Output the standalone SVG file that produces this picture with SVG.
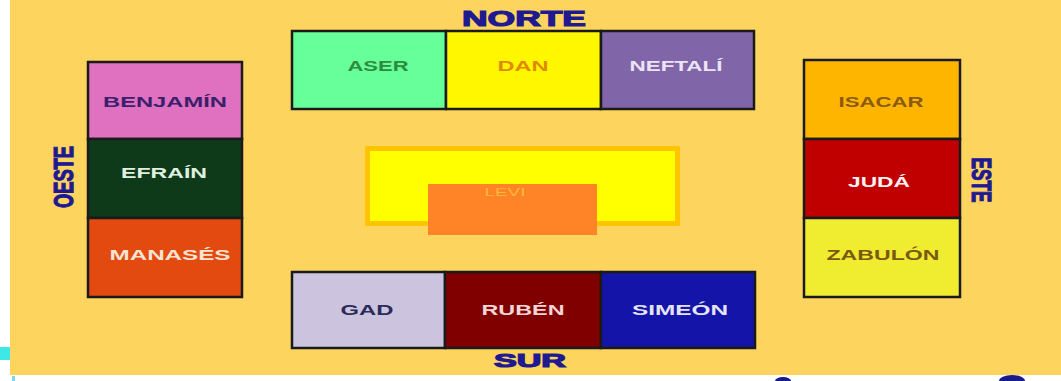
<svg xmlns="http://www.w3.org/2000/svg" width="1061" height="381" viewBox="0 0 1061 381">
<style>
.box{stroke:#1a1a1a;stroke-width:2.5}
.lbl{font-family:"Liberation Sans",Arial,sans-serif;font-weight:bold;font-size:14px;text-anchor:middle}
.dir{font-family:"Liberation Sans",Arial,sans-serif;font-weight:bold;fill:#1f1a8f;stroke:#1f1a8f;stroke-width:1.2;text-anchor:middle}
</style>
<rect x="0" y="0" width="1061" height="381" fill="#ffffff"/>
<rect x="0" y="347" width="10" height="13" fill="#3fe8e8"/>
<rect x="12" y="376" width="3" height="5" fill="#7fd8e8"/>
<rect x="10" y="0" width="1051" height="375" fill="#fdd55e"/>
<ellipse cx="783" cy="381" rx="8" ry="4" fill="#1a1a8c"/>
<ellipse cx="1012" cy="381" rx="13" ry="6" fill="#1a1a8c"/>

<g id="norte"><text class="dir" x="524" y="26" font-size="22" textLength="124" lengthAdjust="spacingAndGlyphs">NORTE</text></g>
<g id="sur"><text class="dir" x="530" y="367" font-size="19" textLength="72" lengthAdjust="spacingAndGlyphs">SUR</text></g>
<g id="oeste"><text class="dir" transform="translate(63,177) rotate(-90)" x="0" y="10" font-size="27" textLength="62" lengthAdjust="spacingAndGlyphs">OESTE</text></g>
<g id="este"><text class="dir" transform="translate(982,180) rotate(90)" x="0" y="10" font-size="27" textLength="45" lengthAdjust="spacingAndGlyphs">ESTE</text></g>

<g id="aser"><rect class="box" x="292" y="31" width="154" height="78" fill="#66ff99"/><text class="lbl" x="378" y="71" fill="#2e8b3e" textLength="61" lengthAdjust="spacingAndGlyphs">ASER</text></g>
<g id="dan"><rect class="box" x="446" y="31" width="155" height="78" fill="#fff700"/><text class="lbl" x="523" y="71" fill="#e08a00" textLength="51" lengthAdjust="spacingAndGlyphs">DAN</text></g>
<g id="neftali"><rect class="box" x="601" y="31" width="153" height="78" fill="#8066a8"/><text class="lbl" x="676" y="71" fill="#ece4f4" textLength="93" lengthAdjust="spacingAndGlyphs">NEFTALÍ</text></g>

<g id="benjamin"><rect class="box" x="88" y="62" width="154" height="77" fill="#e070c0"/><text class="lbl" x="165" y="107" fill="#3a1f6b" textLength="124" lengthAdjust="spacingAndGlyphs">BENJAMÍN</text></g>
<g id="efrain"><rect class="box" x="88" y="139" width="154" height="79" fill="#0f3a1a"/><text class="lbl" x="164" y="178" fill="#e0f0e0" textLength="86" lengthAdjust="spacingAndGlyphs">EFRAÍN</text></g>
<g id="manases"><rect class="box" x="88" y="218" width="154" height="79" fill="#e24a10"/><text class="lbl" x="170" y="260" fill="#f8e4d4" textLength="121" lengthAdjust="spacingAndGlyphs">MANASÉS</text></g>

<g id="isacar"><rect class="box" x="804" y="60" width="156" height="79" fill="#fdb500"/><text class="lbl" x="881" y="107" fill="#8b5a10" textLength="85" lengthAdjust="spacingAndGlyphs">ISACAR</text></g>
<g id="juda"><rect class="box" x="804" y="139" width="156" height="79" fill="#c00000"/><text class="lbl" x="879" y="187" fill="#fff0f0" textLength="62" lengthAdjust="spacingAndGlyphs">JUDÁ</text></g>
<g id="zabulon"><rect class="box" x="804" y="218" width="156" height="79" fill="#f0ec30"/><text class="lbl" x="883" y="260" fill="#7a5a10" textLength="113" lengthAdjust="spacingAndGlyphs">ZABULÓN</text></g>

<g id="levi">
<rect x="367.5" y="148.5" width="310" height="75" fill="#ffff00" stroke="#ffc400" stroke-width="5"/>
<rect x="428" y="184" width="169" height="51" fill="#ff8427"/>
<text x="505" y="196" font-family="'Liberation Sans',Arial,sans-serif" font-size="11" fill="#ffb838" text-anchor="middle" textLength="41" lengthAdjust="spacingAndGlyphs">LEVI</text>
</g>

<g id="gad"><rect class="box" x="292" y="272" width="153" height="76" fill="#ccc4de"/><text class="lbl" x="367" y="315" fill="#2b2b5b" textLength="53" lengthAdjust="spacingAndGlyphs">GAD</text></g>
<g id="ruben"><rect class="box" x="445" y="272" width="156" height="76" fill="#800000"/><text class="lbl" x="523" y="315" fill="#f4d4d4" textLength="83" lengthAdjust="spacingAndGlyphs">RUBÉN</text></g>
<g id="simeon"><rect class="box" x="601" y="272" width="154" height="76" fill="#1414a8"/><text class="lbl" x="680" y="315" fill="#e4e4f4" textLength="96" lengthAdjust="spacingAndGlyphs">SIMEÓN</text></g>

<g id="connectors"/>
</svg>
